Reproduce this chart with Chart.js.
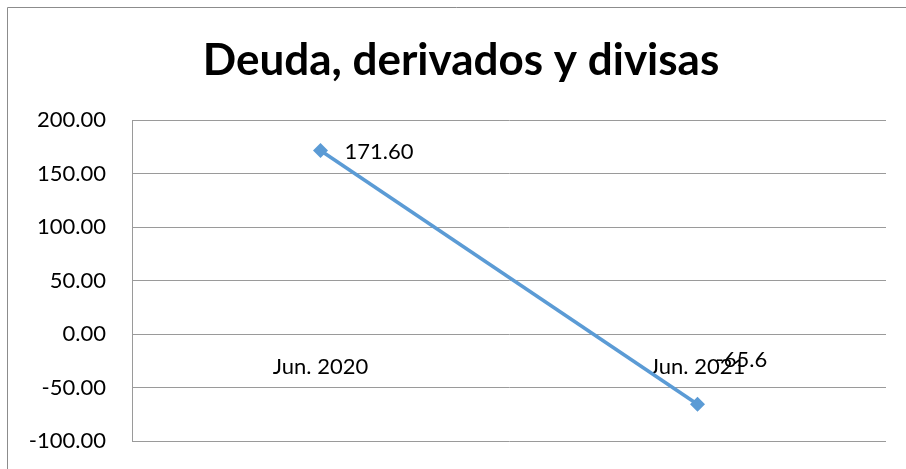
<!DOCTYPE html>
<html>
<head>
<meta charset="utf-8">
<script src="https://cdn.jsdelivr.net/npm/chart.js@4"></script>
<style>
html,body{margin:0;padding:0;background:#fff;}
#wrap{width:906px;height:469px;position:relative;}
</style>
</head>
<body>
<div id="wrap"><canvas id="c" width="906" height="469"></canvas></div>
<script>
const chartTitle = "Deuda, derivados y divisas";
const categories = ["Jun. 2020", "Jun. 2021"];
const values = [171.60, -65.6];
const valueLabels = ["171.60", "-65.6"];
const yTicks = { min: -100, max: 200, step: 50 };

const FONT = "Lato, 'Open Sans', sans-serif";

const framePlugin = {
  id: 'frame',
  afterDraw(chart) {
    const ctx = chart.ctx;
    ctx.save();
    ctx.strokeStyle = '#8c8c8c';
    ctx.lineWidth = 1;
    ctx.beginPath();
    ctx.moveTo(7.5, 469);
    ctx.lineTo(7.5, 7.5);
    ctx.lineTo(906, 7.5);
    ctx.stroke();
    ctx.restore();
  }
};

const labelPlugin = {
  id: 'valueLabels',
  afterDatasetsDraw(chart) {
    const ctx = chart.ctx;
    const meta = chart.getDatasetMeta(0);
    const offsets = [[24, 2], [18, -44]];
    ctx.save();
    ctx.font = "22px " + FONT;
    ctx.fillStyle = '#000';
    ctx.textAlign = 'left';
    ctx.textBaseline = 'middle';
    meta.data.forEach((pt, i) => {
      ctx.fillText(valueLabels[i], pt.x + offsets[i][0], pt.y + offsets[i][1]);
    });
    ctx.restore();
  }
};

new Chart(document.getElementById('c'), {
  type: 'line',
  data: {
    labels: categories,
    datasets: [{
      data: values,
      yAxisID: 'y',
      borderColor: '#5b9bd5',
      backgroundColor: '#5b9bd5',
      borderWidth: 3.6,
      pointStyle: 'rectRot',
      pointRadius: 7.5,
      pointHoverRadius: 7.5,
      pointBorderWidth: 0,
      tension: 0,
      fill: false
    }]
  },
  options: {
    responsive: false,
    animation: false,
    devicePixelRatio: 1,
    layout: { padding: { left: 16, right: 0, top: 0, bottom: 28 } },
    plugins: {
      legend: { display: false },
      tooltip: { enabled: false },
      title: {
        display: true,
        text: chartTitle,
        color: '#000',
        font: { family: FONT, size: 44, weight: 'bold', lineHeight: 1.2 },
        padding: { top: 34.6, bottom: 32.6 }
      }
    },
    scales: {
      x: {
        type: 'category',
        position: { y: 0 },
        offset: true,
        grid: { display: false, drawTicks: false },
        border: { display: false },
        ticks: {
          color: '#000',
          font: { family: FONT, size: 22 },
          padding: 20,
          maxRotation: 0,
          autoSkip: false
        }
      },
      y: {
        position: 'left',
        min: yTicks.min,
        max: yTicks.max,
        afterFit(scale) { scale.width = 116; },
        grid: { color: '#9a9a9a', lineWidth: 1, drawTicks: true, tickLength: 26, tickColor: 'rgba(0,0,0,0)' },
        border: { display: true, color: '#9a9a9a', width: 1 },
        ticks: {
          stepSize: yTicks.step,
          color: '#000',
          font: { family: FONT, size: 22 },
          padding: 0,
          callback: (v) => Number(v).toFixed(2)
        }
      },
      y2: {
        position: 'right',
        display: true,
        afterFit(scale) { scale.width = 20; },
        grid: { display: false, drawTicks: false },
        border: { display: false },
        ticks: { display: false }
      }
    }
  },
  plugins: [framePlugin, labelPlugin]
});
</script>
</body>
</html>
